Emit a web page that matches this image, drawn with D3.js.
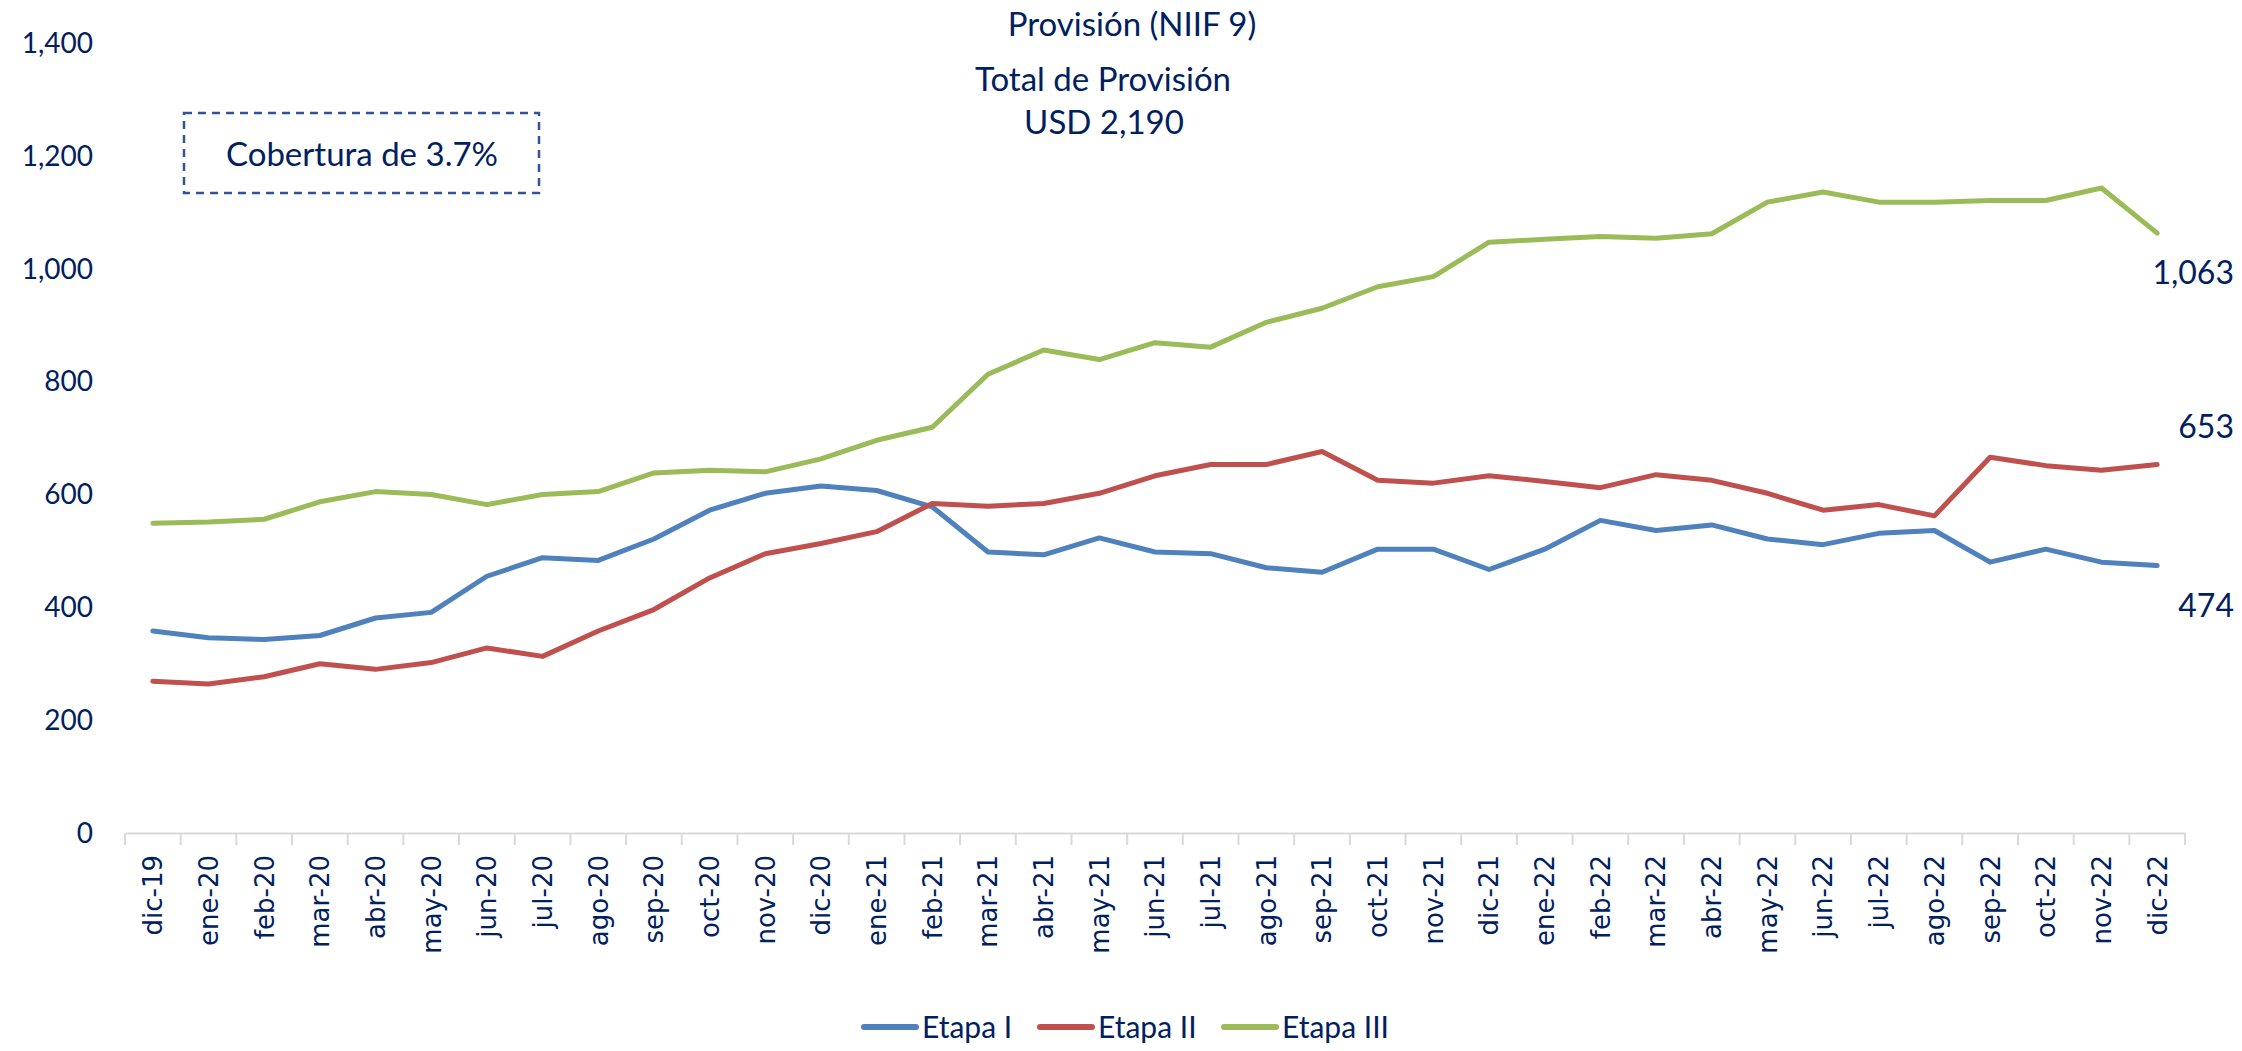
<!DOCTYPE html>
<html>
<head>
<meta charset="utf-8">
<script src="https://cdn.jsdelivr.net/npm/d3@7"></script>
<style>
  body { margin: 0; background: #fff; }
  text { fill: #002060; }
</style>
</head>
<body>
<script>
// data
var months = ["dic-19","ene-20","feb-20","mar-20","abr-20","may-20","jun-20","jul-20","ago-20","sep-20","oct-20","nov-20",
  "dic-20","ene-21","feb-21","mar-21","abr-21","may-21","jun-21","jul-21","ago-21","sep-21","oct-21","nov-21",
  "dic-21","ene-22","feb-22","mar-22","abr-22","may-22","jun-22","jul-22","ago-22","sep-22","oct-22","nov-22","dic-22"];

var etapa1 = [358,346,343,350,381,391,455,488,483,521,572,602,615,607,578,498,493,523,498,495,470,462,503,503,
  467,503,554,536,546,521,511,531,536,480,503,480,474];
var etapa2 = [269,264,277,300,290,302,328,313,358,396,452,495,513,534,584,579,584,602,633,653,653,676,625,620,
  633,623,612,635,625,602,572,582,562,666,651,643,653];
var etapa3 = [549,551,556,587,605,600,582,600,605,638,643,640,663,696,719,813,856,839,869,861,905,930,968,986,
  1047,1052,1057,1054,1062,1118,1136,1118,1118,1121,1121,1143,1063];

var yTicks = [0, 200, 400, 600, 800, 1000, 1200, 1400];
var seriesNames = ["Etapa I", "Etapa II", "Etapa III"];
var seriesColors = ["#4f81bd", "#c0504d", "#9bbb59"];

var width = 2242, height = 1051;
var margin = {left: 125, right: 57, top: 43, bottom: 220};

var svg = d3.select("body").append("svg")
    .attr("width", width)
    .attr("height", height);

var x = d3.scaleBand()
    .domain(months)
    .range([margin.left, width - margin.right]);

var y = d3.scaleLinear()
    .domain([0, 1400])
    .range([height - margin.bottom + 2, margin.top]);

// y labels, no axis line
svg.append("g")
    .selectAll("text")
    .data(yTicks)
    .enter()
    .append("text")
        .attr("x", 93)
        .attr("y", function(d) {return y(d)})
        .attr("dy", "0.35em")
        .attr("text-anchor", "end")
        .style("font-family", "Lato")
        .style("font-size", "28px")
        .text(d3.format(","));

// x axis
var xAxis = svg.append("g")
    .attr("transform", "translate(0," + y(0) + ")")
    .call(d3.axisBottom(x).tickSize(0).tickPadding(0));

xAxis.select(".domain").attr("stroke", "#d9d9d9").attr("stroke-width", 2);

xAxis.selectAll(".tick text")
    .attr("transform", "translate(0,22) rotate(-90)")
    .attr("x", 0)
    .attr("y", 0)
    .attr("dy", "0.36em")
    .attr("text-anchor", "end")
    .style("font-family", "DejaVu Sans")
    .style("font-size", "26px")
    .style("fill", "#002060");

// boundary ticks between months
var bounds = months.map(function(m) {return x(m)}).concat([x.range()[1]]);
xAxis.selectAll(".bound")
    .data(bounds)
    .enter()
    .append("line")
        .attr("class", "bound")
        .attr("x1", function(d) {return d})
        .attr("x2", function(d) {return d})
        .attr("y1", 0)
        .attr("y2", 12)
        .attr("stroke", "#d9d9d9")
        .attr("stroke-width", 2);

// lines
var line = d3.line()
    .x(function(d, i) {return x(months[i]) + x.bandwidth() / 2})
    .y(function(d) {return y(d)});

var allSeries = [etapa1, etapa2, etapa3];
svg.selectAll(".serie")
    .data(allSeries)
    .enter()
    .append("path")
        .attr("class", "serie")
        .attr("d", line)
        .attr("fill", "none")
        .attr("stroke", function(d, i) {return seriesColors[i]})
        .attr("stroke-width", 5)
        .attr("stroke-linejoin", "round")
        .attr("stroke-linecap", "round");

// end labels
var endOffsets = [40, -38, 40];
allSeries.forEach(function(s, i) {
    var v = s[s.length - 1];
    svg.append("text")
        .attr("x", 2234)
        .attr("y", y(v) + endOffsets[i])
        .attr("dy", "0.35em")
        .attr("text-anchor", "end")
        .style("font-family", "Lato")
        .style("font-size", "32px")
        .text(d3.format(",")(v));
});

// titles
svg.append("text")
    .attr("x", 1132).attr("y", 24).attr("dy", "0.35em")
    .attr("text-anchor", "middle")
    .style("font-family", "Lato").style("font-size", "33px")
    .text("Provisión (NIIF 9)");

svg.append("text")
    .attr("x", 1103).attr("y", 79).attr("dy", "0.35em")
    .attr("text-anchor", "middle")
    .style("font-family", "Lato").style("font-size", "33px")
    .text("Total de Provisión");

svg.append("text")
    .attr("x", 1104).attr("y", 122).attr("dy", "0.35em")
    .attr("text-anchor", "middle")
    .style("font-family", "Lato").style("font-size", "33px")
    .text("USD 2,190");

// coverage box
svg.append("rect")
    .attr("x", 184).attr("y", 113)
    .attr("width", 355).attr("height", 80)
    .attr("fill", "none")
    .attr("stroke", "#2f5597")
    .attr("stroke-width", 2.5)
    .attr("stroke-dasharray", "8,6");

svg.append("text")
    .attr("x", 362).attr("y", 154).attr("dy", "0.35em")
    .attr("text-anchor", "middle")
    .style("font-family", "Lato").style("font-size", "33px")
    .text("Cobertura de 3.7%");

// legend
var legendX = [864, 1040, 1224];
var legend = svg.selectAll(".legend")
    .data(seriesNames)
    .enter()
    .append("g")
        .attr("class", "legend")
        .attr("transform", function(d, i) {return "translate(" + legendX[i] + ",1027)"});

legend.append("line")
    .attr("x1", 0).attr("x2", 52)
    .attr("y1", 0).attr("y2", 0)
    .attr("stroke", function(d, i) {return seriesColors[i]})
    .attr("stroke-width", 6)
    .attr("stroke-linecap", "round");

legend.append("text")
    .attr("x", 58).attr("y", 0).attr("dy", "0.35em")
    .style("font-family", "Lato").style("font-size", "30px")
    .text(function(d) {return d});
</script>
</body>
</html>
